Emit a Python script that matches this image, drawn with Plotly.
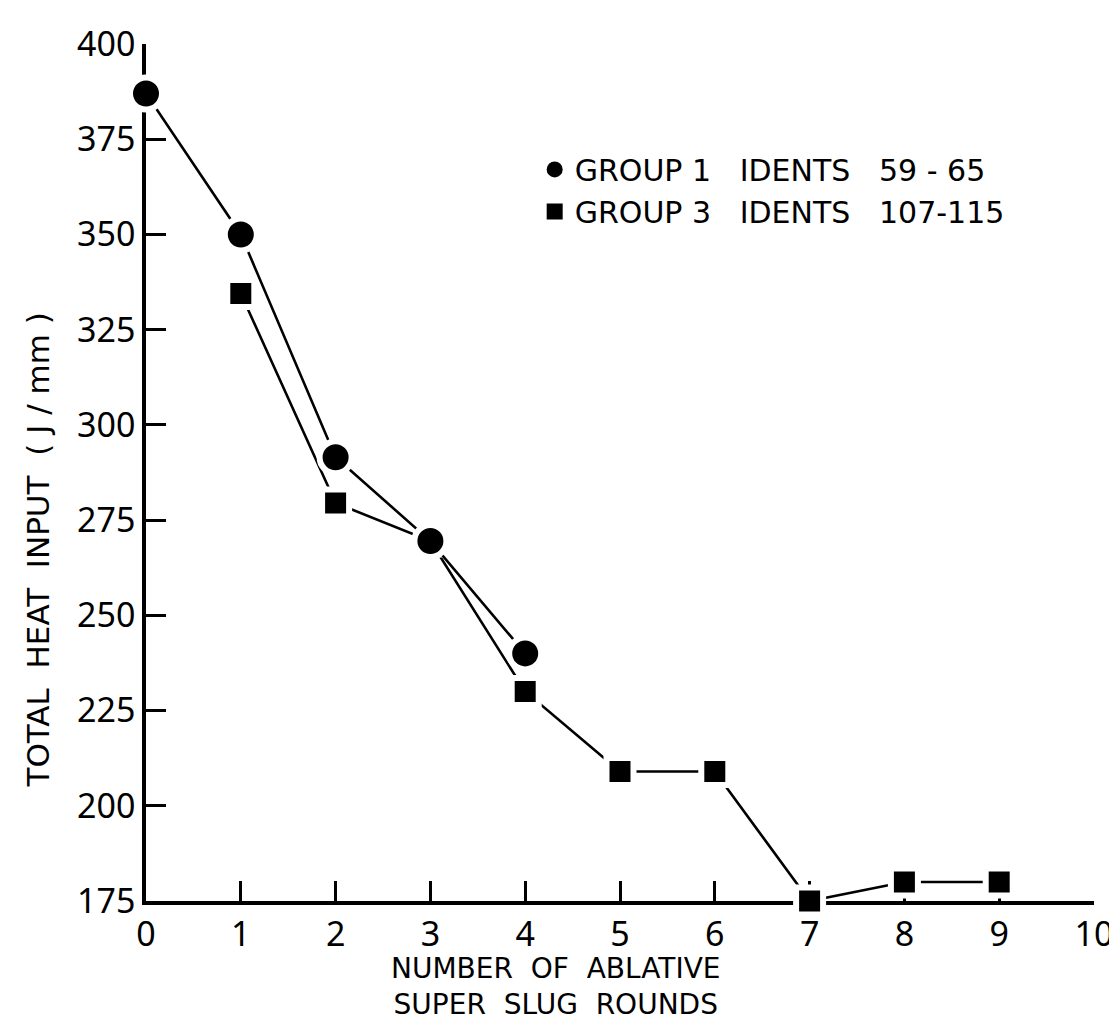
import plotly.graph_objects as go

# Data
group1_x = [0, 1, 2, 3, 4]
group1_y = [387, 350, 291.5, 269.5, 240]
group3_x = [1, 2, 3, 4, 5, 6, 7, 8, 9]
group3_y = [334.5, 279.5, 269.5, 230, 209, 209, 175, 180, 180]
x_ticks = [0, 1, 2, 3, 4, 5, 6, 7, 8, 9, 10]
y_ticks = [175, 200, 225, 250, 275, 300, 325, 350, 375, 400]

TICK_FONT = "Noto Sans"
TEXT_FONT = "DejaVu Sans"

fig = go.Figure()

# Group 3 series (squares)
fig.add_trace(go.Scatter(
    x=group3_x, y=group3_y, mode="lines+markers",
    name="GROUP 3   IDENTS   107-115",
    line=dict(color="black", width=2.6),
    marker=dict(symbol="square", size=27, color="black",
                line=dict(color="white", width=6)),
    cliponaxis=False, showlegend=False,
))
# Group 1 series (circles)
fig.add_trace(go.Scatter(
    x=group1_x, y=group1_y, mode="lines+markers",
    name="GROUP 1   IDENTS   59 - 65",
    line=dict(color="black", width=2.6),
    marker=dict(symbol="circle", size=32, color="black",
                line=dict(color="white", width=6)),
    cliponaxis=False, showlegend=False,
))

# Legend-only traces
fig.add_trace(go.Scatter(
    x=[None], y=[None], mode="markers", name="GROUP 1   IDENTS   59 - 65",
    marker=dict(symbol="circle", size=24, color="black"),
))
fig.add_trace(go.Scatter(
    x=[None], y=[None], mode="markers", name="GROUP 3   IDENTS   107-115",
    marker=dict(symbol="square", size=20, color="black"),
))

fig.update_layout(
    width=1117, height=1026,
    margin=dict(l=138, r=30, t=25, b=133),
    paper_bgcolor="white", plot_bgcolor="white",
    font=dict(family=TEXT_FONT, color="black"),
    showlegend=True,
    legend=dict(
        x=0.41, y=0.884, xanchor="left", yanchor="top",
        bgcolor="rgba(0,0,0,0)", font=dict(size=30, family=TEXT_FONT),
        itemwidth=30, tracegroupgap=0,
    ),
    annotations=[
        dict(text="TOTAL  HEAT  INPUT  ( J / mm )", textangle=-90,
             xref="paper", yref="paper", x=-0.114, y=0.41,
             xanchor="center", yanchor="middle", showarrow=False,
             font=dict(size=31, family=TEXT_FONT)),
        dict(text="NUMBER  OF  ABLATIVE<br>SUPER  SLUG  ROUNDS",
             xref="paper", yref="paper", x=0.433, y=-0.1,
             xanchor="center", yanchor="middle", showarrow=False,
             font=dict(size=28, family=TEXT_FONT)),
    ],
)

fig.update_xaxes(
    range=[0, 10], tickvals=x_ticks, ticktext=[str(v) for v in x_ticks],
    showgrid=False, zeroline=False,
    showline=True, linecolor="black", linewidth=3.5,
    ticks="inside", ticklen=20, tickwidth=2.5, tickcolor="black",
    tickfont=dict(size=34, family=TICK_FONT),
    layer="below traces",
)
fig.update_yaxes(
    range=[175, 400], tickvals=y_ticks, ticktext=[str(v) for v in y_ticks],
    showgrid=False, zeroline=False,
    showline=True, linecolor="black", linewidth=3.5,
    ticks="inside", ticklen=20, tickwidth=2.5, tickcolor="black",
    tickfont=dict(size=34, family=TICK_FONT),
    layer="below traces",
)

fig.write_html("out.html")
